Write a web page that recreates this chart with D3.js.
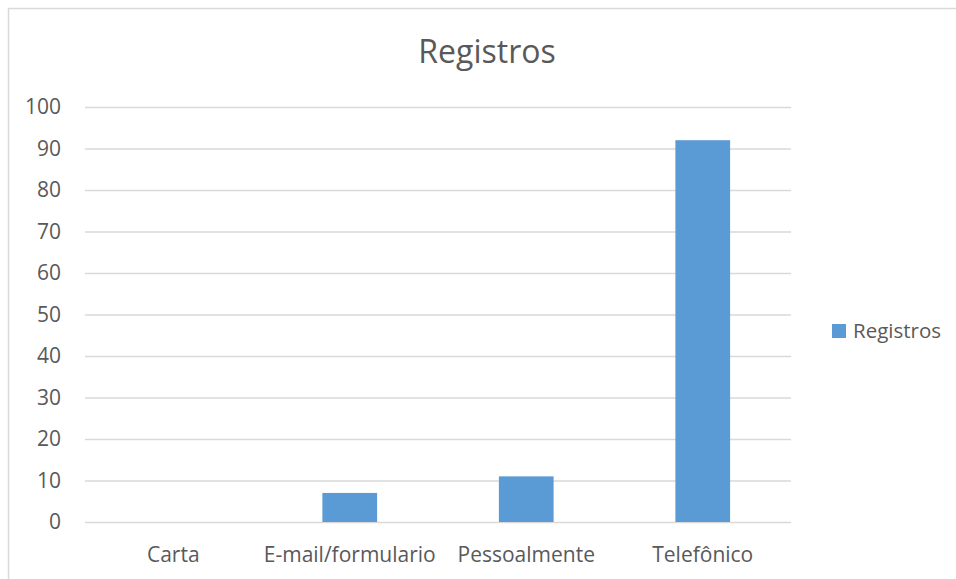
<!DOCTYPE html>
<html>
<head>
<meta charset="utf-8">
<script src="https://cdn.jsdelivr.net/npm/d3@7"></script>
<style>
  body { margin: 0; background: #fff; }
  text { font-family: "Open Sans", "Noto Sans", sans-serif; fill: #595959; }
</style>
</head>
<body>
<div id="chart"></div>
<script>
const categories = ["Carta", "E-mail/formulario", "Pessoalmente", "Telefônico"];
const values = [0, 7, 11, 92];
const yTicks = [0, 10, 20, 30, 40, 50, 60, 70, 80, 90, 100];
const seriesName = "Registros";
const title = "Registros";

const width = 956, height = 579;
const plot = { left: 85, right: 791, top: 107, bottom: 522 };
const barColor = "#5b9bd5";
const gridColor = "#d9d9d9";
const font = "\"Open Sans\", \"Noto Sans\", sans-serif";

const svg = d3.select("#chart").append("svg")
  .attr("width", width)
  .attr("height", height);

// chart frame (runs off the right/bottom edge)
svg.append("rect")
  .attr("x", 8.5).attr("y", 8.5)
  .attr("width", 1000).attr("height", 1000)
  .attr("fill", "#fff")
  .attr("stroke", gridColor)
  .attr("stroke-width", 1.5);

svg.append("text")
  .attr("x", 487).attr("y", 63)
  .attr("text-anchor", "middle")
  .attr("font-size", 32)
  .text(title);

const x = d3.scaleBand()
  .domain(categories)
  .range([plot.left, plot.right])
  .paddingInner(0.69)
  .paddingOuter(0.345);

const xBand = d3.scaleBand().domain(categories).range([plot.left, plot.right]);

const y = d3.scaleLinear().domain([0, 100]).range([plot.bottom, plot.top]);

// gridlines + y labels
const yAxisG = svg.append("g")
  .attr("transform", `translate(${plot.left},0)`)
  .call(d3.axisLeft(y).tickValues(yTicks).tickSize(-(plot.right - plot.left)).tickPadding(24));
yAxisG.select(".domain").remove();
yAxisG.selectAll(".tick line").attr("stroke", gridColor).attr("stroke-width", 1.3);
yAxisG.selectAll(".tick text")
  .attr("font-size", 21)
  .attr("fill", "#595959")
  .attr("font-family", font);

// bars
svg.append("g").selectAll("rect")
  .data(categories.map((c, i) => ({ c, v: values[i] })))
  .join("rect")
  .attr("x", d => x(d.c))
  .attr("y", d => y(d.v))
  .attr("width", x.bandwidth())
  .attr("height", d => y(0) - y(d.v))
  .attr("fill", barColor);

// x labels
const xAxisG = svg.append("g")
  .attr("transform", `translate(0,${plot.bottom})`)
  .call(d3.axisBottom(xBand).tickSize(0).tickPadding(25));
xAxisG.select(".domain").remove();
xAxisG.selectAll(".tick text")
  .attr("font-size", 21)
  .attr("fill", "#595959")
  .attr("font-family", font);

// legend
const legend = svg.append("g").attr("transform", "translate(832,324)");
legend.append("rect").attr("width", 14).attr("height", 14).attr("fill", barColor);
legend.append("text")
  .attr("x", 21).attr("y", 13.5)
  .attr("font-size", 20.5)
  .text(seriesName);
</script>
</body>
</html>
